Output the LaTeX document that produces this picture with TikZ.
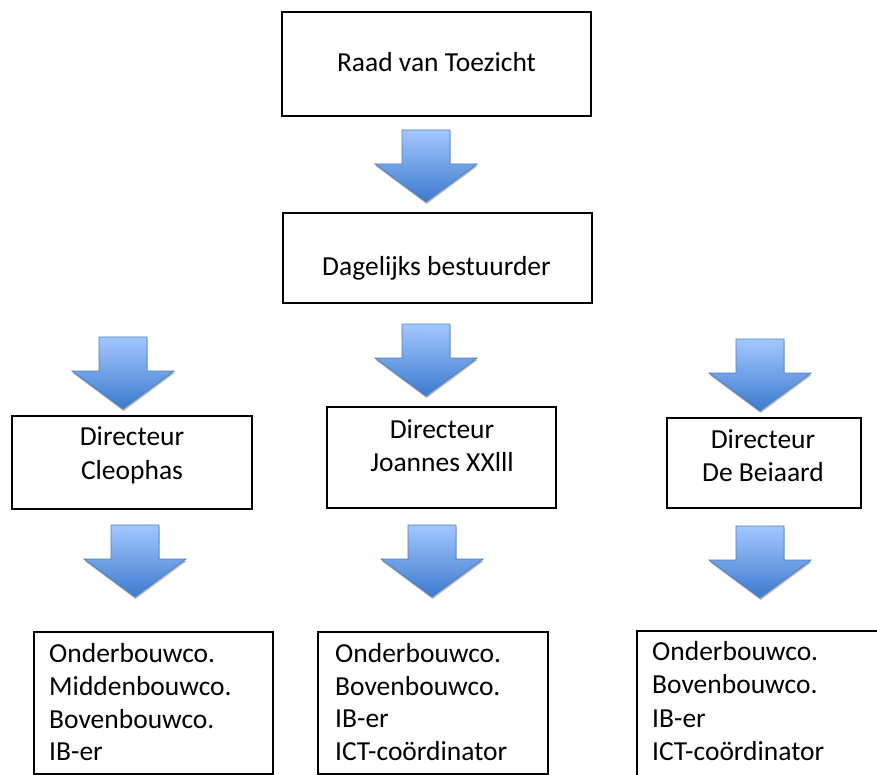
\documentclass[tikz,border=0pt]{standalone}
\usepackage{fontspec}
\setmainfont{Carlito}
\definecolor{arrtop}{RGB}{163,199,255}
\definecolor{arrbot}{RGB}{60,122,206}
\definecolor{arredge}{RGB}{79,129,189}
\tikzset{
  orgbox/.style={draw=black, line width=1.8pt, inner sep=0pt, fill=white},
  lbl/.style={inner sep=0pt, font=\fontsize{27.5}{33}\selectfont},
  blockarrow/.pic={
    \begin{scope}[shift={(0.6,2)}]
      \fill[black!50, opacity=0.55] (-24,0) -- (-24,34) -- (-51,34) -- (0,72) -- (51,34) -- (24,34) -- (24,0) -- cycle;
    \end{scope}
    \shade[top color=arrtop, bottom color=arrbot, draw=arredge, line width=0.8pt]
      (-24,0) -- (-24,34) -- (-51,34) -- (0,72) -- (51,34) -- (24,34) -- (24,0) -- cycle;
  }
}
\begin{document}
\begin{tikzpicture}[x=1pt, y=-1pt]
\useasboundingbox (0,0) rectangle (877,775);
\clip (0,0) rectangle (877,775);
\fill[white] (0,0) rectangle (877,775);

% boxes
\node[orgbox, minimum width=309pt, minimum height=104pt] (raad) at (436.5,64) {};
\node[orgbox, minimum width=309pt, minimum height=90pt] (dag) at (437.5,258) {};
\node[orgbox, minimum width=240pt, minimum height=93pt] (dirL) at (132,462.5) {};
\node[orgbox, minimum width=229pt, minimum height=101pt] (dirM) at (441.5,457.5) {};
\node[orgbox, minimum width=194pt, minimum height=90pt] (dirR) at (764,463) {};
\node[orgbox, minimum width=239pt, minimum height=142pt] (botL) at (153.5,703) {};
\node[orgbox, minimum width=230pt, minimum height=142pt] (botM) at (433,703) {};
\node[orgbox, minimum width=263pt, minimum height=169pt] (botR) at (768.5,715.5) {};

% block arrows
\pic (a1) at (426,130) {blockarrow};
\pic (a2) at (123,337) {blockarrow};
\pic (a3) at (426,324) {blockarrow};
\pic (a4) at (760,339) {blockarrow};
\pic (a5) at (135,525) {blockarrow};
\pic (a6) at (432,525) {blockarrow};
\pic (a7) at (760,526) {blockarrow};

% texts
\node[lbl, anchor=base] (t1) at (436.5,72) {Raad van Toezicht};
\node[lbl, anchor=base] (t2) at (436.5,276) {Dagelijks bestuurder};

\node[lbl, anchor=base] (t3) at (132,445) {Directeur};
\node[lbl, anchor=base] (t4) at (132,479) {Cleophas};
\node[lbl, anchor=base] (t5) at (442,438) {Directeur};
\node[lbl, anchor=base] (t6) at (442,471) {Joannes XXlll};
\node[lbl, anchor=base] (t7) at (763,448) {Directeur};
\node[lbl, anchor=base] (t8) at (763,481) {De Beiaard};

\node[lbl, anchor=base west] (l1) at (49,662) {Onderbouwco.};
\node[lbl, anchor=base west] (l2) at (49,695) {Middenbouwco.};
\node[lbl, anchor=base west] (l3) at (49,728) {Bovenbouwco.};
\node[lbl, anchor=base west] (l4) at (49,760) {IB-er};

\node[lbl, anchor=base west] (m1) at (335,662) {Onderbouwco.};
\node[lbl, anchor=base west] (m2) at (335,695) {Bovenbouwco.};
\node[lbl, anchor=base west] (m3) at (335,727) {IB-er};
\node[lbl, anchor=base west] (m4) at (335,760) {ICT-coördinator};

\node[lbl, anchor=base west] (r1) at (652,660) {Onderbouwco.};
\node[lbl, anchor=base west] (r2) at (652,693) {Bovenbouwco.};
\node[lbl, anchor=base west] (r3) at (652,727) {IB-er};
\node[lbl, anchor=base west] (r4) at (652,760) {ICT-coördinator};
\end{tikzpicture}
\end{document}
